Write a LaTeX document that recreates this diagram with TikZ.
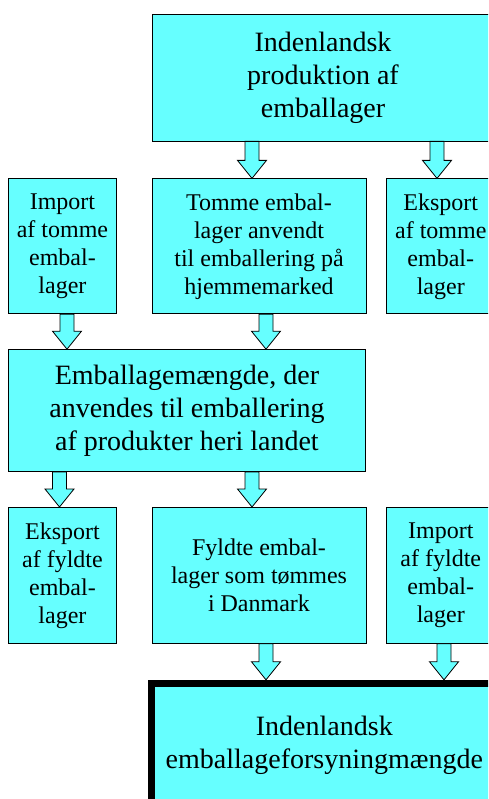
\documentclass[tikz,border=0pt]{standalone}
\usepackage{fontspec}
\setmainfont{Liberation Serif}
\usepackage{tikz}
\usetikzlibrary{positioning,calc}
\usepackage{xcolor}
\definecolor{boxcyan}{RGB}{102,255,255}

\newcommand{\flow}[3]{%
  \draw[flowarrow] let \p1=(#2.south), \p2=(#3.north) in
    ({#1pt-7pt},\y1) -- ({#1pt+7pt},\y1) -- ({#1pt+7pt},{\y2+18pt})
    -- ({#1pt+14.5pt},{\y2+18pt}) -- (#1pt,\y2) -- ({#1pt-14.5pt},{\y2+18pt})
    -- ({#1pt-7pt},{\y2+18pt}) -- cycle;}

\begin{document}
\begin{tikzpicture}[%
    x=1pt,
    y=1pt,
    node distance=35pt,
    box/.style={%
      rectangle,
      draw,
      fill=boxcyan,
      line width=0.8pt,
      inner sep=0pt,
      align=center
    },
    bigtext/.style={font=\fontsize{28}{33}\selectfont},
    smalltext/.style={font=\fontsize{24}{28}\selectfont},
    flowarrow/.style={draw, fill=boxcyan, line width=0.8pt, line join=miter}
  ]
    \useasboundingbox (0,0) rectangle (488,-799);
    \clip (0,0) rectangle (488,-799);

    \node[box,bigtext,minimum width=342pt,minimum height=127pt] (prod) at (323,-77.5)
      {Indenlandsk\\produktion af\\emballager};
    \node[box,smalltext,minimum width=214pt,minimum height=135pt] (tomme) [below right=37pt and 0pt of prod.south west]
      {Tomme embal-\\lager anvendt\\til emballering på\\hjemmemarked};
    \node[box,smalltext,minimum width=108pt,minimum height=135pt] (eksT) [node distance=20pt,right=of tomme]
      {Eksport\\af tomme\\embal-\\lager};
    \node[box,smalltext,minimum width=107.5pt,minimum height=135pt] (impT) [left=of tomme]
      {Import\\af tomme\\embal-\\lager};
    \node[box,bigtext,minimum width=356.5pt,minimum height=122pt] (mgd) [below right=35pt and 0pt of impT.south west]
      {Emballagemængde, der\\anvendes til emballering\\af produkter heri landet};
    \node[box,smalltext,minimum width=107.5pt,minimum height=136pt] (eksF) [below right=35pt and 0pt of mgd.south west]
      {Eksport\\af fyldte\\embal-\\lager};
    \node[box,smalltext,minimum width=214pt,minimum height=136pt] (fyldte) [right=of eksF]
      {Fyldte embal-\\lager som tømmes\\i Danmark};
    \node[box,smalltext,minimum width=108pt,minimum height=136pt] (impF) [node distance=20pt,right=of fyldte]
      {Import\\af fyldte\\embal-\\lager};
    \node[box,bigtext,line width=7pt,minimum width=345.5pt,minimum height=124pt] (forsyn) [below right=36pt and -3.5pt of fyldte.south west]
      {Indenlandsk\\emballageforsyningmængde};

    \flow{252}{prod}{tomme}
    \flow{437}{prod}{eksT}
    \flow{67}{impT}{mgd}
    \flow{266}{tomme}{mgd}
    \flow{59.5}{mgd}{eksF}
    \flow{252}{mgd}{fyldte}
    \flow{266}{fyldte}{forsyn}
    \flow{444}{impF}{forsyn}
  \end{tikzpicture}
\end{document}
